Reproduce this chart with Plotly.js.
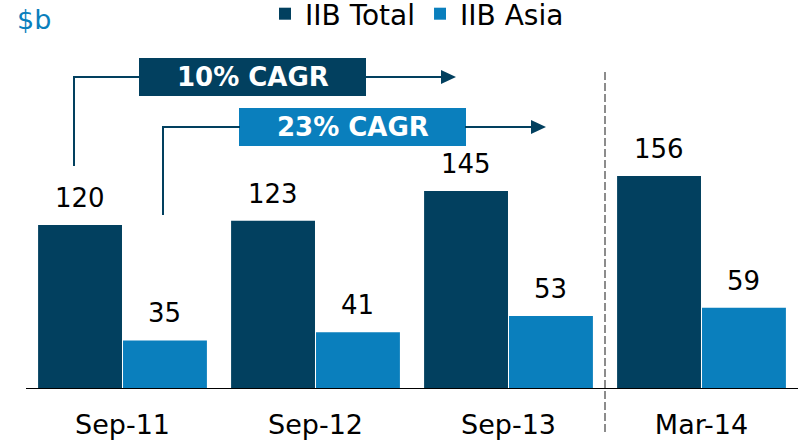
<!DOCTYPE html>
<html>
<head>
<meta charset="utf-8">
<script src="https://cdn.plot.ly/plotly-3.0.1.min.js"></script>
<style>html,body{margin:0;padding:0;background:#fff}#chart{width:798px;height:442px}</style>
</head>
<body>
<div id="chart"></div>
<script>
// ---- data ----
const categories = ["Sep-11", "Sep-12", "Sep-13", "Mar-14"];
const totalName = "IIB Total";
const asiaName = "IIB Asia";
const totalValues = [120, 123, 145, 156];
const asiaValues = [35, 41, 53, 59];
const unitLabel = "$b";
const cagrTotal = "10% CAGR";
const cagrAsia = "23% CAGR";

// ---- style ----
const DARK = "#02405f";
const LIGHT = "#0a7fbd";
const FONT = "DejaVu Sans, Verdana, sans-serif";
const L = 26, T = 40, W = 772, H = 348;
const PX = p => (p - L) / W;
const PY = p => (T + H - p) / H;

const traces = [
  {type: "bar", name: totalName, x: categories, y: totalValues, marker: {color: DARK}, hoverinfo: "skip"},
  {type: "bar", name: asiaName, x: categories, y: asiaValues, marker: {color: LIGHT}, hoverinfo: "skip"}
];

const annotations = [];
categories.forEach((c, i) => {
  annotations.push({x: c, y: totalValues[i], xref: "x", yref: "y", text: String(totalValues[i]),
    showarrow: false, xshift: -42.4, yshift: 10, yanchor: "bottom", font: {family: FONT, size: 26, color: "#000"}});
  annotations.push({x: c, y: asiaValues[i], xref: "x", yref: "y", text: String(asiaValues[i]),
    showarrow: false, xshift: 42.4, yshift: 10, yanchor: "bottom", font: {family: FONT, size: 26, color: "#000"}});
});
annotations.push({x: PX(15), y: PY(20), xref: "paper", yref: "paper", xanchor: "left", yanchor: "middle",
  text: unitLabel, showarrow: false, font: {family: FONT, size: 27, color: LIGHT}});
annotations.push({x: PX(253), y: PY(77), xref: "paper", yref: "paper", xanchor: "center", yanchor: "middle",
  text: "<b>" + cagrTotal + "</b>", showarrow: false, font: {family: FONT, size: 26, color: "#fff"}});
annotations.push({x: PX(353), y: PY(127), xref: "paper", yref: "paper", xanchor: "center", yanchor: "middle",
  text: "<b>" + cagrAsia + "</b>", showarrow: false, font: {family: FONT, size: 26, color: "#fff"}});

const lineStyle = {color: DARK, width: 2};
const seg = (x0, y0, x1, y1) => ({type: "line", xref: "paper", yref: "paper", x0: PX(x0), y0: PY(y0), x1: PX(x1), y1: PY(y1), line: lineStyle});
const rect = (x0, y0, x1, y1, c) => ({type: "rect", xref: "paper", yref: "paper", x0: PX(x0), y0: PY(y0), x1: PX(x1), y1: PY(y1), fillcolor: c, line: {width: 0}, layer: "below"});
const head = (xb, xt, y) => ({type: "path", xref: "paper", yref: "paper",
  path: `M ${PX(xb)} ${PY(y - 7)} L ${PX(xt)} ${PY(y)} L ${PX(xb)} ${PY(y + 7)} Z`, fillcolor: DARK, line: {width: 0}});

const shapes = [
  seg(74, 166, 74, 77), seg(73, 77, 140, 77), seg(365, 77, 442, 77), head(441, 456, 77),
  rect(139, 58, 366, 96, DARK),
  seg(163, 215, 163, 127), seg(162, 127, 240, 127), seg(465, 127, 532, 127), head(531, 546, 127),
  rect(239, 108, 466, 146, LIGHT),
  {type: "line", xref: "x", yref: "paper", x0: 2.5, x1: 2.5, y0: PY(72), y1: PY(434),
   line: {color: "#8c8c8c", width: 2, dash: "8px,3px"}}
];

const layout = {
  width: 798, height: 442,
  margin: {l: L, r: 798 - L - W, t: T, b: 442 - T - H, pad: 0, autoexpand: false},
  paper_bgcolor: "#fff", plot_bgcolor: "#fff",
  barmode: "group", bargap: 0.12, bargroupgap: 0.012,
  showlegend: true,
  legend: {orientation: "h", xref: "paper", yref: "paper", x: PX(265), y: PY(-11), xanchor: "left", yanchor: "top",
    font: {family: FONT, size: 28, color: "#000"}, bgcolor: "rgba(0,0,0,0)", traceorder: "normal"},
  xaxis: {type: "category", range: [-0.5, 3.5], showline: true, linecolor: "#000", linewidth: 1, ticks: "",
    ticklabelstandoff: 13,
    showgrid: false, zeroline: false, tickfont: {family: FONT, size: 27, color: "#000"}, fixedrange: true},
  yaxis: {range: [0, 256], visible: false, showgrid: false, zeroline: false, fixedrange: true},
  annotations: annotations,
  shapes: shapes
};

Plotly.newPlot("chart", traces, layout, {staticPlot: true, displayModeBar: false});
</script>
</body>
</html>
